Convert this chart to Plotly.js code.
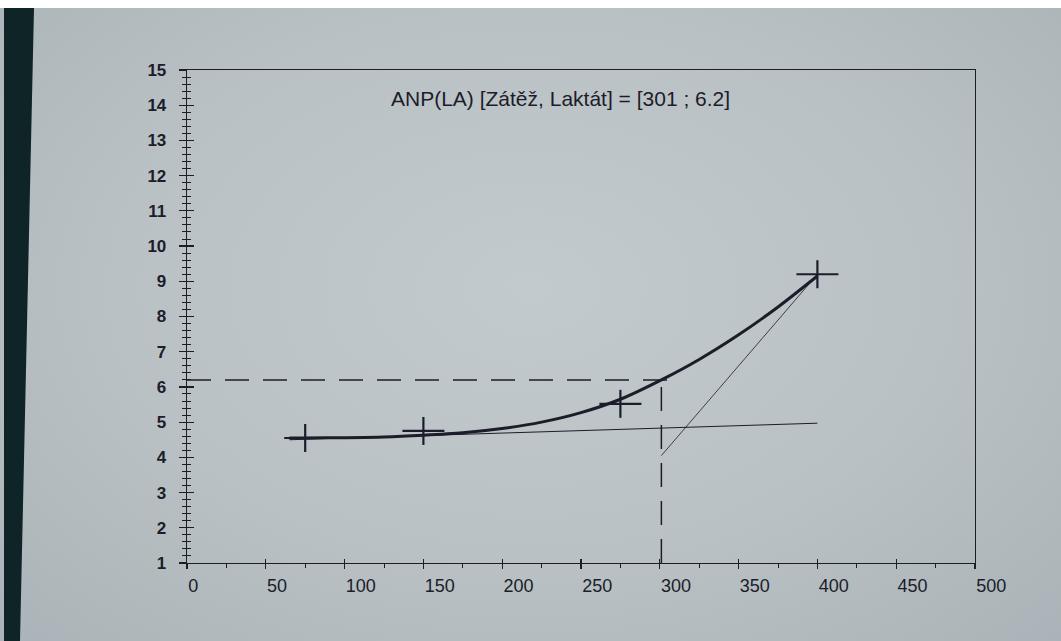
<!DOCTYPE html>
<html>
<head>
<meta charset="utf-8">
<script src="https://cdn.plot.ly/plotly-3.0.1.min.js"></script>
<style>
  html, body { margin:0; padding:0; width:1061px; height:641px; overflow:hidden; background:#ffffff; }
  #paper { position:absolute; left:0; top:0; width:1061px; height:641px;
    background: radial-gradient(ellipse at 50% 45%, #c3cacd 0%, #b9c1c4 55%, #aab3b7 100%); }
  #strip { position:absolute; left:0; top:0; width:1061px; height:641px; background:#0e2427;
    clip-path: polygon(4px 8px, 34px 8px, 20px 641px, 4px 641px); }
  #topband { position:absolute; left:0; top:0; width:1061px; height:8px; background:#ffffff; }
  #chart { position:absolute; left:0; top:0; width:1061px; height:641px; }
</style>
</head>
<body>
<div id="paper"></div>
<div id="strip"></div>
<div id="topband"></div>
<div id="chart"></div>
<script>
// Measured stages (load W, lactate mmol/l)
const stageLoad    = [75, 150, 275, 400];
const stageLactate = [4.55, 4.75, 5.52, 9.2];

// Fitted lactate curve
const curveLoad    = [65, 75, 100, 125, 150, 175, 200, 225, 250, 275, 301, 325, 350, 375, 400];
const curveLactate = [4.55, 4.55, 4.56, 4.58, 4.63, 4.7, 4.82, 5.0, 5.27, 5.65, 6.2, 6.78, 7.48, 8.27, 9.15];

// Baseline construction line
const baseLoad    = [65, 400];
const baseLactate = [4.5, 4.97];

// Diagonal construction line (from last stage down to the threshold load)
const diagLoad    = [400, 301];
const diagLactate = [9.2, 4.05];

// Threshold result ANP(LA)
const anpLoad = 301;
const anpLactate = 6.2;
const titleText = 'ANP(LA) [Zátěž, Laktát] = [301 ; 6.2]';

// Axis ticks
const xTickVals = [0, 50, 100, 150, 200, 250, 300, 350, 400, 450, 500];
const yTickVals = [1, 2, 3, 4, 5, 6, 7, 8, 9, 10, 11, 12, 13, 14, 15];

const ink = '#1c1c2a';

const traces = [
  { x: [0, anpLoad + 8], y: [anpLactate, anpLactate], mode: 'lines',
    line: { color: ink, width: 1.5, dash: '24px,14px' }, hoverinfo: 'skip', showlegend: false },
  { x: [anpLoad, anpLoad], y: [1, anpLactate], mode: 'lines',
    line: { color: ink, width: 1.5, dash: '24px,14px' }, hoverinfo: 'skip', showlegend: false },
  { x: baseLoad, y: baseLactate, mode: 'lines',
    line: { color: ink, width: 1 }, showlegend: false },
  { x: diagLoad, y: diagLactate, mode: 'lines',
    line: { color: ink, width: 0.8 }, showlegend: false },
  { x: curveLoad, y: curveLactate, mode: 'lines',
    line: { color: ink, width: 3, shape: 'spline', smoothing: 0.8 }, showlegend: false },
  { x: stageLoad, y: stageLactate, mode: 'markers',
    marker: { symbol: 'line-ew', size: 30, color: ink, line: { color: ink, width: 2.2 } },
    showlegend: false },
  { x: stageLoad, y: stageLactate, mode: 'markers',
    marker: { symbol: 'line-ns', size: 20, color: ink, line: { color: ink, width: 2.2 } },
    showlegend: false },
  { x: [null], y: [null], xaxis: 'x2', yaxis: 'y2', showlegend: false, hoverinfo: 'skip' }
];

const layout = {
  width: 1061, height: 641,
  paper_bgcolor: 'rgba(0,0,0,0)', plot_bgcolor: 'rgba(0,0,0,0)',
  margin: { l: 187, r: 86, t: 70, b: 78 },
  showlegend: false,
  xaxis: {
    range: [0, 500], tickvals: xTickVals, ticktext: xTickVals.map(String),
    showgrid: false, zeroline: false, showline: true, mirror: true,
    linecolor: ink, linewidth: 1.3,
    ticks: 'outside', ticklen: 5, tickcolor: ink, tickwidth: 1.2,
    minor: { ticks: 'outside', dtick: 25, tick0: 0, ticklen: 4, tickcolor: ink, tickwidth: 1 },
    ticklabelposition: 'outside right', ticklabelstandoff: 6,
    tickfont: { family: 'Liberation Sans Narrow, Liberation Sans, Arial', size: 18, color: ink }
  },
  yaxis: {
    range: [1, 15], tickvals: yTickVals, ticktext: yTickVals.map(String),
    showgrid: false, zeroline: false, showline: true, mirror: true,
    linecolor: ink, linewidth: 1.3,
    ticks: 'outside', ticklen: 7, tickcolor: ink, tickwidth: 1.2,
    minor: { ticks: 'outside', dtick: 0.2, tick0: 1, ticklen: 4, tickcolor: ink, tickwidth: 1 },
    ticklabelstandoff: 9,
    tickfont: { family: 'Liberation Sans, Arial', size: 17, color: ink, weight: 'bold' }
  },
  xaxis2: {
    overlaying: 'x', anchor: 'y2', side: 'bottom', matches: 'x',
    showgrid: false, zeroline: false, showline: false, showticklabels: false,
    tickvals: xTickVals, ticks: 'inside', ticklen: 4, tickcolor: ink, tickwidth: 1.2
  },
  yaxis2: {
    overlaying: 'y', anchor: 'x2', side: 'left', matches: 'y',
    showgrid: false, zeroline: false, showline: false, showticklabels: false,
    tickvals: yTickVals, ticks: 'inside', ticklen: 7, tickcolor: ink, tickwidth: 1.2,
    minor: { ticks: 'inside', dtick: 0.2, tick0: 1, ticklen: 4, tickcolor: ink, tickwidth: 1 }
  },
  annotations: [{
    text: titleText, xref: 'x', yref: 'y', x: 237, y: 14.2,
    showarrow: false, xanchor: 'center', yanchor: 'middle',
    font: { family: 'Liberation Sans, Arial', size: 21, color: ink }
  }]
};

Plotly.newPlot('chart', traces, layout, { displayModeBar: false, staticPlot: true });
</script>
</body>
</html>
